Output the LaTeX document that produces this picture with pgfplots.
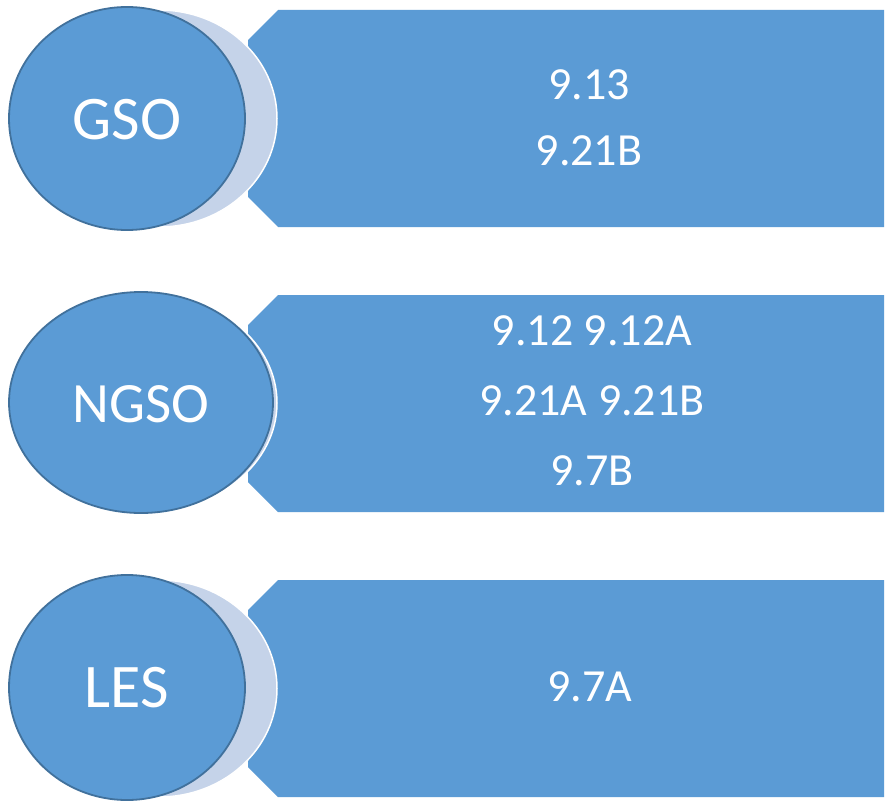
\documentclass[border=0pt]{standalone}
\usepackage{pgfplots}
\pgfplotsset{compat=1.18}
\usepackage{fontspec}
\setmainfont{Carlito}

\definecolor{boxblue}{HTML}{5B9BD5}
\definecolor{edgeblue}{HTML}{41719C}
\definecolor{paleblue}{HTML}{C5D3E9}

\begin{document}
\begin{tikzpicture}
\begin{axis}[
    width=885bp, height=801bp,
    scale only axis,
    xmin=0, xmax=885,
    ymin=0, ymax=801,
    y dir=reverse,
    axis lines=none,
    ticks=none,
    clip=false,
]
% background (keeps the page the full size)
\fill[white] (axis cs:0,0) rectangle (axis cs:885,801);

% chevron-ended boxes
\addplot[fill=boxblue, draw=none] coordinates {(278,10) (884,10) (884,227) (278,227) (248,197) (248,40)} -- cycle;
\addplot[fill=boxblue, draw=none] coordinates {(278,295) (884,295) (884,512) (278,512) (248,482) (248,325)} -- cycle;
\addplot[fill=boxblue, draw=none] coordinates {(278,580) (884,580) (884,797) (278,797) (248,767) (248,610)} -- cycle;

% pale circles behind
\draw[fill=paleblue, draw=white, line width=1.5bp] (axis cs:159,118.5) ellipse [x radius=118, y radius=108.5];
\draw[fill=paleblue, draw=white, line width=1.5bp] (axis cs:145,403) ellipse [x radius=132, y radius=109];
\draw[fill=paleblue, draw=white, line width=1.5bp] (axis cs:159,688.5) ellipse [x radius=118, y radius=108.5];

% front circles
\draw[fill=boxblue, draw=edgeblue, line width=1.8bp] (axis cs:127,118.5) ellipse [x radius=118, y radius=111.5];
\draw[fill=boxblue, draw=edgeblue, line width=1.8bp] (axis cs:141,402.5) ellipse [x radius=132, y radius=110.5];
\draw[fill=boxblue, draw=edgeblue, line width=1.8bp] (axis cs:127,687.5) ellipse [x radius=118, y radius=112.5];

% circle labels
\node[white, font=\fontsize{62bp}{62bp}\selectfont] at (axis cs:127,120) {GSO};
\node[white, font=\fontsize{57bp}{57bp}\selectfont] at (axis cs:141,404) {NGSO};
\node[white, font=\fontsize{62bp}{62bp}\selectfont] at (axis cs:127,688) {LES};

% box texts
\node[white, font=\fontsize{46bp}{66bp}\selectfont, align=center] at (axis cs:589,118) {9.13\\9.21B};
\node[white, font=\fontsize{46bp}{70bp}\selectfont, align=center] at (axis cs:592,401) {9.12 9.12A\\9.21A 9.21B\\9.7B};
\node[white, font=\fontsize{46bp}{46bp}\selectfont] at (axis cs:590,687) {9.7A};
\end{axis}
\end{tikzpicture}
\end{document}
